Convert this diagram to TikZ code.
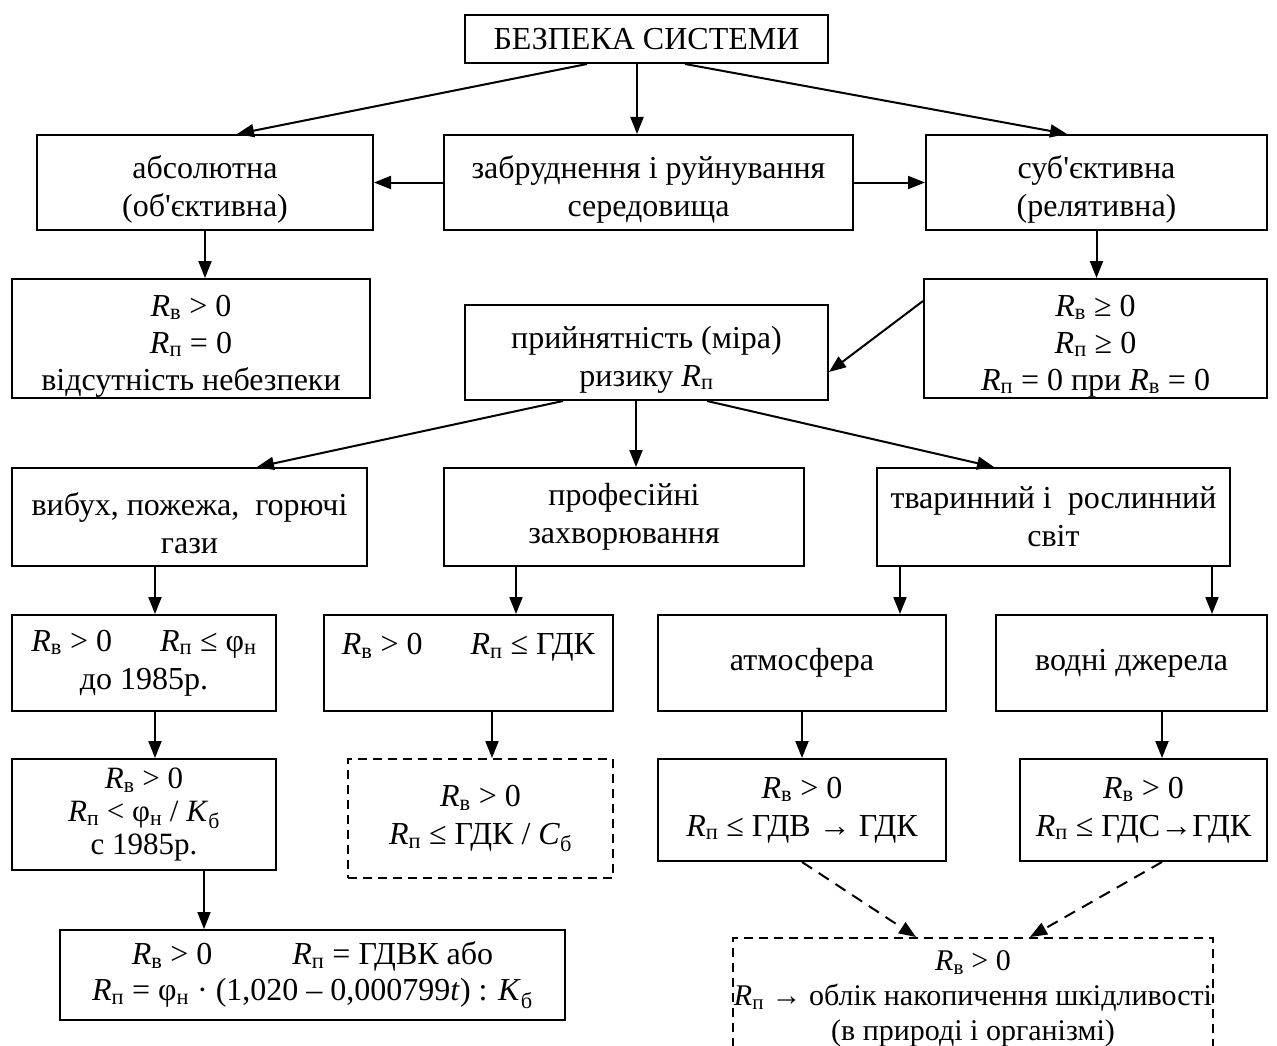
\documentclass[tikz,border=0pt]{standalone}
\usepackage{fontspec}
\setmainfont{Liberation Serif}
\newfontfamily\apofont{Liberation Serif}[Ligatures=TeXOff]
\usetikzlibrary{arrows.meta}

\newcommand{\RV}{\textit{R}\textsubscript{в}}
\newcommand{\RP}{\textit{R}\textsubscript{п}}
\newcommand{\FN}{φ\textsubscript{н}}
\newcommand{\KB}{\textit{K}\textsubscript{б}}
\newcommand{\CB}{\textit{C}\textsubscript{б}}
\newcommand{\apo}{{\apofont'}}
\newcommand{\lift}{\rule{0pt}{36pt}}

\tikzset{
	box/.style={draw, line width=2pt, align=center, inner sep=0pt, font=\fontsize{32}{38}\selectfont},
	dbox/.style={box, dash pattern=on 9pt off 6pt},
	arr/.style={-{Triangle[length=17pt,width=13pt]}, line width=2pt},
	darr/.style={arr, dash pattern=on 12pt off 8pt}
}

\begin{document}
\begin{tikzpicture}[x=1pt, y=-1pt]
		\useasboundingbox (0,0) rectangle (1277,1046);
		
		% Верхній рівень
		\node[box, minimum width=363, minimum height=48] (top) at (646.5,39) {БЕЗПЕКА СИСТЕМИ};
		\node[box, minimum width=336, minimum height=95] (abs) at (205,182.5) {\lift абсолютна\\(об\apo єктивна)};
		\node[box, minimum width=409, minimum height=95] (zab) at (648.5,182.5) {\lift забруднення і руйнування\\середовища};
		\node[box, minimum width=341, minimum height=95] (sub) at (1096.5,182.5) {\lift суб\apo єктивна\\(релятивна)};
		
		\node[box, minimum width=358, minimum height=119, font=\fontsize{32}{37}\selectfont] (absR) at (191,338.5) {\lift\RV{} > 0\\\RP{} = 0\\відсутність небезпеки};
		\node[box, minimum width=363, minimum height=95] (pryin) at (646.5,352.5) {\lift прийнятність (міра)\\ризику \RP};
		\node[box, minimum width=343, minimum height=119, font=\fontsize{32}{37}\selectfont] (subR) at (1095.5,338.5) {\lift\RV{} ≥ 0\\\RP{} ≥ 0\\\RP{} = 0 при \RV{} = 0};
		
		% Види небезпек
		\node[box, minimum width=355, minimum height=98] (vyb) at (189.5,517) {\lift вибух, пожежа,\ \ горючі\\гази};
		\node[box, minimum width=360, minimum height=98] (prof) at (624,517) {професійні\\захворювання};
		\node[box, minimum width=353, minimum height=98] (tvar) at (1053.5,517) {тваринний і\ \ рослинний\\світ};
		
		\node[box, minimum width=264, minimum height=96] (fi) at (144,663) {\RV{} > 0\quad\ \ \RP{} ≤ \FN\\до 1985р.};
		\node[box, minimum width=289, minimum height=96] (gdk) at (468.5,663) {\RV{} > 0\quad\ \ \RP{} ≤ ГДК\\~};
		\node[box, minimum width=288, minimum height=96] (atm) at (802,663) {атмосфера};
		\node[box, minimum width=271, minimum height=96] (vod) at (1131.5,663) {водні джерела};
		
		\node[box, minimum width=264, minimum height=111, font=\fontsize{31}{33}\selectfont] (kb) at (144,814.5) {\RV{} > 0\\\RP{} < \FN{} / \KB\\с 1985р.};
		\node[dbox, minimum width=265, minimum height=119] (cb) at (480.5,818.5) {\RV{} > 0\\\RP{} ≤ ГДК / \CB};
		\node[box, minimum width=288, minimum height=102] (gdv) at (802,810) {\RV{} > 0\\\RP{} ≤ ГДВ → ГДК};
		\node[box, minimum width=247, minimum height=102] (gds) at (1143.5,810) {\RV{} > 0\\\RP{} ≤ ГДС→ГДК};
		
		\node[box, minimum width=505, minimum height=90, font=\fontsize{32}{36}\selectfont] (gdvk) at (312.5,975) {\RV{} > 0\hspace{80pt}\RP{} = ГДВК або\\\RP{} = \FN{} · (1,020 – 0,000799\textit{t}) : \KB};
		\node[dbox, minimum width=480, minimum height=170, anchor=north] (oblik) at (973,937) {};
		\node[box, draw=none, font=\fontsize{30}{35}\selectfont] (oblikt) at (973,999) {\RV{} > 0\\\RP{} → облік накопичення шкідливості\\(в природі і організмі)};
		
		% Зв'язки
		\draw[arr] ([xshift=-59.5pt]top.south) -- ([xshift=32pt]abs.north);
		\draw[arr] ([xshift=-9.5pt]top.south) -- ([xshift=-9.5pt]top.south |- zab.north);
		\draw[arr] ([xshift=38.5pt]top.south) -- ([xshift=-29.5pt]sub.north);
		\draw[arr] (zab.west) -- (abs.east);
		\draw[arr] (zab.east) -- (sub.west);
		\draw[arr] (abs.south) -- (abs.south |- absR.north);
		\draw[arr] (sub.south) -- (sub.south |- subR.north);
		\draw[arr] ([yshift=-23pt]subR.north west) -- ([yshift=-19.5pt]pryin.east);
		
		\draw[arr] ([xshift=-83.5pt]pryin.south) -- ([xshift=67.5pt]vyb.north);
		\draw[arr] ([xshift=-10.5pt]pryin.south) -- ([xshift=-10.5pt]pryin.south |- prof.north);
		\draw[arr] ([xshift=60.5pt]pryin.south) -- ([xshift=-59.5pt]tvar.north);
		
		\draw[arr] ([xshift=-34.5pt]vyb.south) -- ([xshift=-34.5pt]vyb.south |- fi.north);
		\draw[arr] ([xshift=-108pt]prof.south) -- ([xshift=-108pt]prof.south |- gdk.north);
		\draw[arr] ([xshift=-153.5pt]tvar.south) -- ([xshift=-153.5pt]tvar.south |- atm.north);
		\draw[arr] ([xshift=158.5pt]tvar.south) -- ([xshift=158.5pt]tvar.south |- vod.north);
		
		\draw[arr] ([xshift=11pt]fi.south) -- ([xshift=11pt]fi.south |- kb.north);
		\draw[arr] ([xshift=23.5pt]gdk.south) -- ([xshift=23.5pt]gdk.south |- cb.north);
		\draw[arr] (atm.south) -- (gdv.north);
		\draw[arr] ([xshift=30.5pt]vod.south) -- ([xshift=30.5pt]vod.south |- gds.north);
		
		\draw[arr] ([xshift=60pt]kb.south) -- ([xshift=60pt]kb.south |- gdvk.north);
		\draw[darr] (gdv.south) -- ([xshift=-57pt]oblik.north);
		\draw[darr] ([xshift=18.5pt]gds.south) -- ([xshift=57pt]oblik.north);
	\end{tikzpicture}
\end{document}
